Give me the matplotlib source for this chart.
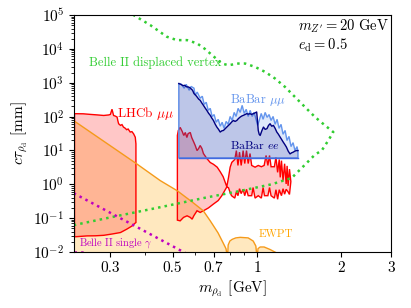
import numpy as np
import matplotlib
matplotlib.use("Agg")
from matplotlib import pyplot as plt
from matplotlib.ticker import FixedLocator, NullFormatter

plt.rcParams["font.family"] = "serif"
plt.rcParams["font.serif"] = ["cmr10", "DejaVu Serif"]
plt.rcParams["mathtext.fontset"] = "cm"
plt.rcParams["axes.formatter.use_mathtext"] = True
plt.rcParams["axes.unicode_minus"] = False

# EWPT bound (upper edge of excluded band)
ewpt_m = [0.2235, 0.371, 0.452, 0.519, 0.592, 0.643, 0.681, 0.726, 0.757, 0.775, 0.782, 0.786,
          0.789, 0.800, 0.815, 0.840, 0.871, 0.930, 0.969, 0.990, 0.998, 1.004, 1.008, 1.026,
          1.060, 1.113, 1.170, 1.200]
ewpt_ctau = [73, 4.1, 1.28, 0.646, 0.284, 0.165, 0.083, 0.0366, 0.0185, 0.0125, 0.008, 0.008,
             0.016, 0.021, 0.0235, 0.026, 0.027, 0.026, 0.021, 0.015, 0.008, 0.008, 0.0125, 0.014,
             0.014, 0.0118, 0.0095, 0.008]

# LHCb mumu, low mass island (closed contour)
lhcb1_m = [0.2235, 0.2235, 0.240, 0.255, 0.270, 0.284, 0.296, 0.300, 0.304, 0.308, 0.312, 0.317,
           0.319, 0.321, 0.326, 0.330, 0.334, 0.338, 0.343, 0.347, 0.353, 0.358, 0.363, 0.368,
           0.370, 0.370, 0.365, 0.359, 0.343, 0.326, 0.305, 0.284, 0.265, 0.248, 0.2235]
lhcb1_ctau = [0.028, 122, 121, 116, 112, 108, 112, 116, 165, 108, 104, 97, 75, 61.5, 55, 58, 49,
              46, 41, 43, 35, 36, 31, 24.6, 15.7, 0.074, 0.068, 0.059, 0.047, 0.0375, 0.034,
              0.031, 0.030, 0.0298, 0.028]

# LHCb mumu, high mass island: upper and lower edges
lhcb2_top_m = [0.520, 0.524, 0.532, 0.541, 0.548, 0.555, 0.562, 0.568, 0.578, 0.585, 0.596, 0.602,
               0.611, 0.619, 0.627, 0.636, 0.644, 0.662, 0.681, 0.699, 0.721, 0.739, 0.757, 0.780,
               0.791, 0.802, 0.813, 0.833, 0.844, 0.855, 0.866, 0.878, 0.892, 0.904, 0.917, 0.930,
               0.944, 0.957, 0.984, 1.010, 1.036, 1.060, 1.077, 1.093, 1.108, 1.122, 1.153, 1.168,
               1.184, 1.200, 1.210, 1.222, 1.238, 1.254, 1.270, 1.280, 1.290, 1.305, 1.320]
lhcb2_top_ctau = [27.7, 39, 48, 36.5, 27.7, 34, 24.1, 31.5, 34, 24, 17, 14, 9.9, 11.4, 14, 11.4,
                  8.1, 5.8, 4.4, 3.9, 3.2, 2.35, 1.68, 0.85, 1.57, 3.2, 4.45, 5.4, 9.9, 3.6, 8.9,
                  3.6, 9.9, 4.1, 9.9, 4.1, 8.1, 3.6, 3.2, 3.6, 3.3, 3.6, 7.1, 3.6, 7.1, 3.3, 3.3,
                  6.3, 2.25, 5.4, 1.6, 5.0, 1.28, 4.05, 1.02, 3.5, 0.9, 2.8, 1.2]
lhcb2_bot_m = [0.520, 0.532, 0.547, 0.563, 0.578, 0.587, 0.595, 0.611, 0.627, 0.644, 0.671, 0.699,
               0.727, 0.749, 0.770, 0.780, 0.791, 0.802, 0.811, 0.833, 0.844, 0.855, 0.866, 0.878,
               0.892, 0.904, 0.917, 0.930, 0.957, 0.968, 0.984, 1.010, 1.036, 1.051, 1.063, 1.093,
               1.108, 1.122, 1.153, 1.168, 1.184, 1.200, 1.222, 1.238, 1.254, 1.270, 1.290, 1.305,
               1.320]
lhcb2_bot_ctau = [0.087, 0.083, 0.105, 0.117, 0.105, 0.093, 0.117, 0.165, 0.147, 0.165, 0.20,
                  0.26, 0.33, 0.46, 0.69, 0.83, 0.79, 0.57, 0.46, 0.39, 0.60, 0.46, 0.74, 0.53,
                  0.71, 0.46, 0.71, 0.46, 0.46, 0.80, 0.39, 0.46, 0.39, 0.80, 0.46, 0.46, 0.80,
                  0.46, 0.39, 0.69, 0.36, 0.69, 0.46, 0.74, 0.51, 0.71, 0.6, 0.5, 1.2]

# BaBar upper edges, lower edge of both bands
babar_floor = 6.0
babar_ee_m = [0.526, 0.535, 0.545, 0.552, 0.560, 0.570, 0.578, 0.589, 0.596, 0.604, 0.611, 0.619,
              0.627, 0.636, 0.644, 0.653, 0.662, 0.672, 0.681, 0.690, 0.699, 0.709, 0.719, 0.729,
              0.739, 0.749, 0.759, 0.770, 0.780, 0.791, 0.802, 0.813, 0.824, 0.835, 0.847, 0.859,
              0.871, 0.882, 0.894, 0.906, 0.919, 0.931, 0.944, 0.956, 0.969, 0.983, 0.997, 1.003,
              1.010, 1.018, 1.026, 1.040, 1.054, 1.069, 1.085, 1.099, 1.113, 1.128, 1.144, 1.160,
              1.176, 1.192, 1.208, 1.224, 1.240, 1.256, 1.273, 1.292, 1.311, 1.328, 1.346, 1.363,
              1.380, 1.400]
babar_ee_ctau = [946, 900, 820, 843, 760, 750, 700, 599, 479, 430, 382, 330, 303, 250, 215, 180,
                 153, 125, 109, 90, 77, 60, 49, 42, 35, 38, 39, 44, 49, 55, 61.5, 70, 77, 72, 77,
                 88, 97, 104, 109, 115, 122, 118, 122, 116, 122, 128, 137, 80, 39, 30, 27.7, 38,
                 49, 42, 44, 55, 61.5, 52, 55, 45, 35, 30, 25, 21, 17.6, 15, 12.5, 9.5, 7.9, 8.5,
                 8.9, 9.5, 9.9, 9.9]
babar_mm_m = [0.526, 0.537, 0.550, 0.559, 0.573, 0.582, 0.596, 0.602, 0.612, 0.627, 0.638, 0.648,
              0.659, 0.670, 0.681, 0.692, 0.703, 0.715, 0.727, 0.739, 0.751, 0.763, 0.776, 0.789,
              0.802, 0.815, 0.829, 0.842, 0.856, 0.871, 0.885, 0.900, 0.915, 0.930, 0.945, 0.961,
              0.976, 0.992, 1.005, 1.018, 1.035, 1.051, 1.069, 1.086, 1.104, 1.122, 1.141, 1.160,
              1.179, 1.198, 1.218, 1.238, 1.259, 1.279, 1.300, 1.322, 1.344, 1.366, 1.389, 1.400]
babar_mm_ctau = [966, 900, 690, 900, 600, 780, 690, 430, 530, 350, 400, 230, 265, 153, 175, 100,
                 115, 68, 83, 52, 68, 45, 72, 59, 101, 77, 133, 101, 175, 133, 215, 124, 164, 101,
                 153, 101, 133, 83, 55, 77, 124, 83, 133, 95, 115, 77, 101, 59, 83, 45, 59, 30,
                 39, 19.7, 26, 13, 17, 9.9, 13, 8.7]

# Belle II displaced vertex contour (lower branch then upper branch)
bdv_m = [0.222, 0.30, 0.452, 0.653, 0.858, 1.128, 1.33, 1.366, 1.483, 1.61, 1.70, 1.795, 1.87,
         1.747, 1.61, 1.483, 1.366, 1.259, 1.160, 1.069, 0.984, 0.907, 0.858, 0.791, 0.749, 0.653,
         0.611, 0.563, 0.518, 0.477, 0.416, 0.363, 0.35]
bdv_ctau = [0.062, 0.105, 0.21, 0.40, 0.62, 1.0, 1.54, 1.93, 3.8, 7.55, 9.9, 19.7, 35, 55, 97,
            191, 379, 750, 1330, 2090, 2940, 3700, 3700, 3300, 3700, 9900, 14600, 18200, 18200,
            22900, 50800, 1.0e5, 1.4e5]

# Belle II single photon
bsg_m = [0.222, 0.30, 0.40, 0.50, 0.56]
bsg_ctau = [0.545, 0.143, 0.040, 0.0148, 0.0089]
bsg2_m = [0.222, 0.245]
bsg2_ctau = [0.0101, 0.0101]

xticks = [0.3, 0.5, 0.7, 1, 2, 3]
xticklabels = ["0.3", "0.5", "0.7", "1", "2", "3"]
xminor = [0.4, 0.6, 0.8, 0.9]

fig = plt.figure(figsize=(4.11, 3.08), dpi=100)
ax = fig.add_axes([0.180, 0.182, 0.771, 0.769])

# EWPT
ax.fill_between(ewpt_m, 1e-3, ewpt_ctau, color="orange", alpha=0.25, lw=0)
ax.plot(ewpt_m, ewpt_ctau, color="#f59a1a", lw=1)

# LHCb
ax.fill(lhcb1_m, lhcb1_ctau, facecolor=(1, 0, 0, 0.22), edgecolor="red", lw=1)
l2m = lhcb2_top_m + lhcb2_bot_m[::-1]
l2c = lhcb2_top_ctau + lhcb2_bot_ctau[::-1]
ax.fill(l2m, l2c, facecolor=(1, 0, 0, 0.22), edgecolor="red", lw=1)

# BaBar
mm_x = [babar_mm_m[0]] + babar_mm_m + [babar_mm_m[-1]]
mm_y = [babar_floor] + babar_mm_ctau + [babar_floor]
ax.fill(mm_x, mm_y, facecolor=(0.39, 0.58, 0.93, 0.2), edgecolor="cornflowerblue", lw=1)
ee_x = [babar_ee_m[0]] + babar_ee_m + [babar_ee_m[-1]]
ee_y = [babar_floor] + babar_ee_ctau + [babar_floor]
ax.fill(ee_x, ee_y, facecolor=(0, 0, 0.5, 0.15), edgecolor="none")
ax.plot(babar_ee_m, babar_ee_ctau, color="navy", lw=1)
ax.plot([ee_x[0], ee_x[-1]], [babar_floor, babar_floor], color="royalblue", lw=1)

# Belle II
ax.plot(bdv_m, bdv_ctau, color="limegreen", lw=1.8, ls=":")
ax.plot(bsg_m, bsg_ctau, color="m", lw=1.8, ls=":")
ax.plot(bsg2_m, bsg2_ctau, color="m", lw=1.8, ls=":")

# labels
ax.text(0.251, 3870, "Belle II displaced vertex", color="limegreen", fontsize=9,
        ha="left", va="center")
ax.text(0.318, 124, r"LHCb $\mu\mu$", color="red", fontsize=9.5, ha="left", va="center")
ax.text(0.802, 303, r"BaBar $\mu\mu$", color="cornflowerblue", fontsize=9, ha="left", va="center")
ax.text(0.802, 14, r"BaBar $ee$", color="navy", fontsize=8.5, ha="left", va="center")
ax.text(1.01, 0.034, "EWPT", color="orange", fontsize=8, ha="left", va="center")
ax.text(0.231, 0.0185, r"Belle II single $\gamma$", color="m", fontsize=7.5, ha="left",
        va="center")
ax.text(0.707, 0.912, "$m_{Z'} = 20$ GeV\n$e_{\\rm d} = 0.5$", transform=ax.transAxes,
        fontsize=10.5, ha="left", va="center", linespacing=1.15)

ax.set_xscale("log")
ax.set_yscale("log")
ax.set_xlim(0.2225, 3)
ax.set_ylim(1e-2, 1e5)
ax.set_xticks(xticks)
ax.set_xticklabels(xticklabels)
ax.xaxis.set_minor_locator(FixedLocator(xminor))
ax.xaxis.set_minor_formatter(NullFormatter())
ax.tick_params(labelsize=11)
ax.set_xlabel(r"$m_{\rho_{\rm d}}$ [GeV]", fontsize=11, labelpad=2)
ax.set_ylabel(r"$c\tau_{\rho_{\rm d}}$ [mm]", fontsize=11, labelpad=2)

fig.savefig("out.png", dpi=100)
